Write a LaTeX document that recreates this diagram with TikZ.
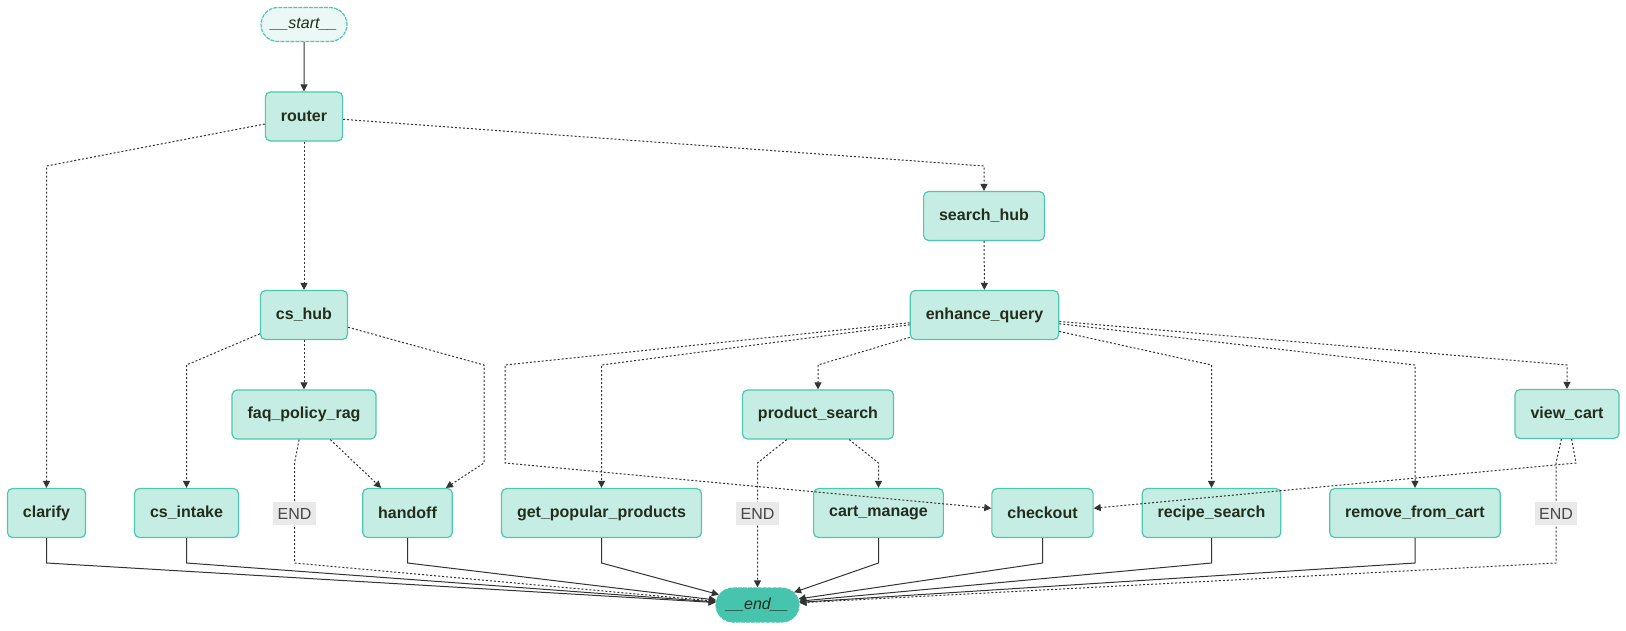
\documentclass[tikz,border=0pt]{standalone}
\usepackage{fontspec}
\setmainfont{Liberation Sans}
\usetikzlibrary{arrows.meta,shapes.misc}
\definecolor{nodefill}{RGB}{198,237,227}
\definecolor{nodeline}{RGB}{77,199,176}
\definecolor{startfill}{RGB}{235,248,245}
\definecolor{endfill}{RGB}{71,196,173}
\definecolor{edgecol}{RGB}{51,51,51}
\definecolor{lblfill}{RGB}{233,233,233}
\definecolor{lbltext}{RGB}{70,70,70}
\definecolor{txt}{RGB}{35,45,30}
\tikzset{
    stepbox/.style={draw=nodeline,fill=nodefill,line width=1.2pt,rounded corners=5pt,
        minimum height=49pt,inner xsep=15.5pt,text=txt,font=\fontsize{16}{19}\selectfont\bfseries},
    term/.style={rounded rectangle,draw=nodeline,line width=1.2pt,dash pattern=on 4pt off 1pt,
        minimum height=34pt,inner xsep=2pt,text=txt,font=\fontsize{16}{19}\selectfont\itshape},
    endlbl/.style={fill=lblfill,text=lbltext,minimum height=23pt,inner xsep=4.5pt,inner ysep=2pt,
        font=\fontsize{16}{19}\selectfont},
    norm/.style={draw=edgecol,line width=1pt,-{Triangle[length=7pt,width=7pt]}},
    cond/.style={norm,dash pattern=on 2pt off 2pt}
}
\begin{document}
\begin{tikzpicture}[x=1pt,y=-1pt]
            \useasboundingbox (0,0) rectangle (1626,630);

            \node[term,fill=startfill,minimum width=90pt] (start) at (304,24.5) {\_\_start\_\_};
            \node[stepbox] (router) at (304,116.5) {router};
            \node[stepbox] (search_hub) at (984,216) {search\_hub};
            \node[stepbox] (cs_hub) at (304,315) {cs\_hub};
            \node[stepbox] (enhance_query) at (984.5,315) {enhance\_query};
            \node[stepbox] (faq_policy_rag) at (304,414.5) {faq\_policy\_rag};
            \node[stepbox] (product_search) at (818,414.5) {product\_search};
            \node[stepbox] (view_cart) at (1567,414) {view\_cart};
            \node[stepbox] (clarify) at (46.5,513) {clarify};
            \node[stepbox] (cs_intake) at (186.5,513) {cs\_intake};
            \node[stepbox] (handoff) at (407.5,513) {handoff};
            \node[stepbox] (get_popular_products) at (601.5,513) {get\_popular\_products};
            \node[stepbox] (cart_manage) at (878.5,513) {cart\_manage};
            \node[stepbox] (checkout) at (1042.5,513) {checkout};
            \node[stepbox] (recipe_search) at (1211.5,513) {recipe\_search};
            \node[stepbox] (remove_from_cart) at (1415,513) {remove\_from\_cart};
            \node[term,fill=endfill,minimum width=87pt] (end) at (757.5,605) {\_\_end\_\_};

            \draw[norm] (start) -- (router);
            \draw[cond] (router) -- (46.5,166) -- (clarify);
            \draw[cond] (router) -- (cs_hub);
            \draw[cond] (router) -- (984,166) -- (search_hub);
            \draw[cond] (search_hub) -- (enhance_query);

            \draw[cond] (cs_hub) -- (186.5,365) -- (cs_intake);
            \draw[cond] (cs_hub) -- (faq_policy_rag);
            \draw[cond] (cs_hub) -- (484,365) -- (484,463) -- (handoff);
            \draw[cond] (faq_policy_rag) -- (handoff);
            \draw[cond] (faq_policy_rag) -- (294.5,463) -- (294.5,563) -- (end);

            \draw[cond] (enhance_query) -- (505,365) -- (505,463) -- (checkout);
            \draw[cond] (enhance_query) -- (601.5,365) -- (get_popular_products);
            \draw[cond] (enhance_query) -- (818,365) -- (product_search);
            \draw[cond] (enhance_query) -- (1211.5,365) -- (recipe_search);
            \draw[cond] (enhance_query) -- (1415,365) -- (remove_from_cart);
            \draw[cond] (enhance_query) -- (1567,365) -- (view_cart);

            \draw[cond] (product_search) -- (757.5,463) -- (end);
            \draw[cond] (product_search) -- (878.5,463) -- (cart_manage);
            \draw[cond] (view_cart) -- (1576,463) -- (checkout);
            \draw[cond] (view_cart) -- (1556,463) -- (1556,563) -- (end);

            \foreach \n in {clarify,cs_intake,handoff,get_popular_products,cart_manage,checkout,recipe_search,remove_from_cart}{
                \draw[norm] (\n) -- (\n.south |- 0,563) -- (end);
            }

            \node[endlbl] (endA) at (294.5,513.5) {END};
            \node[endlbl] (endB) at (757.5,513.5) {END};
            \node[endlbl] (endC) at (1556,513.5) {END};
        \end{tikzpicture}
\end{document}
